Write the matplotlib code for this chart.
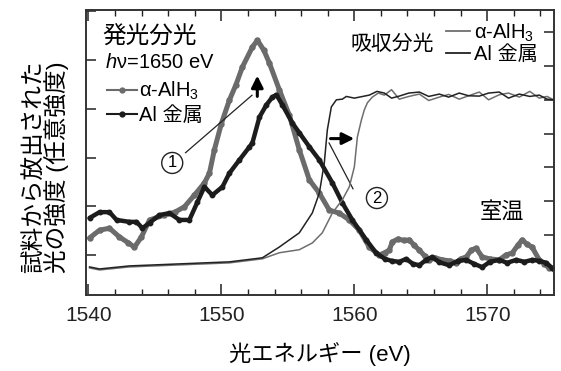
import matplotlib
matplotlib.use("Agg")
import matplotlib.pyplot as plt
from matplotlib.lines import Line2D

plt.rcParams['font.family'] = ['Liberation Sans', 'Noto Sans CJK JP', 'DejaVu Sans']
plt.rcParams['mathtext.fontset'] = 'custom'
plt.rcParams['mathtext.rm'] = 'Liberation Sans'
plt.rcParams['mathtext.it'] = 'Liberation Sans:italic'

# emission spectra (left axis, arbitrary units)
emi_alh3_x = [1540.08, 1540.83, 1541.58, 1542.33, 1543.0, 1543.46, 1543.98, 1544.59, 1545.71,
              1546.5, 1547.22, 1547.97, 1548.72, 1549.1, 1549.47, 1550.0, 1550.6, 1551.1, 1551.58,
              1552.33, 1552.71, 1553.2, 1553.61, 1554.36, 1555.11, 1555.86, 1556.62, 1557.37,
              1558.12, 1558.87, 1559.62, 1560.38, 1561.13, 1561.88, 1562.3, 1562.63, 1562.86,
              1563.3, 1563.7, 1564.14, 1564.5, 1564.89, 1565.3, 1565.64, 1566.1, 1566.62, 1567.2,
              1567.67, 1568.0, 1568.42, 1568.8, 1569.17, 1569.62, 1570.2, 1570.9, 1571.4, 1571.88,
              1572.3, 1572.63, 1573.0, 1573.38, 1573.91, 1574.3, 1574.66, 1575.0]
emi_alh3_y = [0.35, 0.51, 0.55, 0.37, 0.25, 0.16, 0.37, 0.72, 0.82,
              0.88, 0.99, 1.23, 1.48, 1.68, 2.16, 2.7, 3.18, 3.5, 3.86,
              4.27, 4.41, 4.2, 3.94, 3.39, 2.87, 2.16, 1.54, 1.27,
              0.92, 0.86, 0.72, 0.51, 0.16, 0.0, 0.05, 0.10, 0.27,
              0.33, 0.30, 0.31, 0.20, 0.10, -0.02, -0.10, -0.06, -0.10, -0.12,
              -0.16, -0.08, -0.04, 0.10, 0.14, -0.04, -0.08, -0.10, 0.00, 0.04,
              0.20, 0.31, 0.22, 0.16, -0.10, -0.18, -0.27, -0.28]

emi_al_x = [1540.08, 1540.83, 1541.58, 1542.11, 1543.08, 1543.61, 1544.06, 1544.59, 1545.34,
            1546.09, 1546.84, 1547.59, 1548.2, 1548.72, 1549.32, 1550.08, 1550.6, 1551.35,
            1552.11, 1552.33, 1552.86, 1553.38, 1553.83, 1554.14, 1554.59, 1555.34, 1555.86,
            1556.62, 1557.37, 1558.35, 1559.1, 1559.85, 1560.9, 1561.65, 1562.3, 1562.8,
            1563.38, 1563.9, 1564.4, 1564.89, 1565.4, 1565.86, 1566.4, 1567.14, 1567.8,
            1568.42, 1569.0, 1569.62, 1570.2, 1570.9, 1571.5, 1572.18, 1572.8, 1573.38,
            1573.9, 1574.44, 1574.89]
emi_al_y = [0.76, 0.88, 0.88, 0.72, 0.68, 0.68, 0.55, 0.66, 0.82,
            0.86, 0.72, 0.72, 1.09, 1.40, 1.23, 1.40, 1.68, 1.95,
            2.22, 2.30, 2.83, 3.08, 3.24, 3.29, 3.08, 2.71, 2.51,
            2.22, 1.95, 1.48, 1.07, 0.72, 0.31, 0.04, -0.08, -0.12,
            -0.14, -0.08, -0.18, -0.21, -0.10, -0.04, -0.15, -0.21, -0.12,
            -0.10, -0.18, -0.25, -0.14, -0.10, -0.16, -0.10, -0.14, -0.10,
            -0.12, -0.16, -0.27]

# absorption spectra (right axis, arbitrary units)
abs_al_x = [1540.08, 1540.83, 1543.08, 1546.84, 1550.6, 1553.08, 1554.36, 1555.86, 1556.84,
            1557.37, 1557.74, 1557.97, 1558.27, 1558.65, 1559.1, 1559.4, 1560.0, 1560.38,
            1561.13, 1561.7, 1562.26, 1562.8, 1563.38, 1564.1, 1564.89, 1565.6, 1566.39,
            1567.1, 1567.89, 1568.6, 1569.4, 1570.1, 1570.9, 1571.6, 1572.41, 1573.2,
            1573.91, 1574.5, 1575.0]
abs_al_y = [-0.95, -1.01, -0.92, -0.86, -0.80, -0.68, -0.36, 0.06, 0.65,
            1.24, 2.13, 3.11, 3.79, 4.0, 4.02, 4.10, 4.05, 4.08,
            4.14, 4.25, 4.20, 4.05, 4.11, 4.20, 4.23, 4.10, 4.17,
            4.08, 4.20, 4.12, 4.11, 4.20, 4.23, 4.05, 4.17, 4.10,
            4.14, 4.02, 4.0]
abs_alh3_x = [1540.08, 1540.83, 1543.08, 1546.84, 1550.6, 1553.08, 1554.36, 1555.86, 1556.84,
              1557.59, 1558.35, 1559.1, 1559.62, 1560.0, 1560.23, 1560.53, 1560.75, 1560.98,
              1561.35, 1561.8, 1562.26, 1562.8, 1563.38, 1564.1, 1564.89, 1565.6, 1566.39,
              1567.1, 1567.89, 1568.6, 1569.4, 1570.1, 1570.9, 1571.6, 1572.41, 1573.2,
              1573.91, 1574.5, 1575.0]
abs_alh3_y = [-0.98, -1.04, -0.95, -0.89, -0.83, -0.71, -0.53, -0.44, -0.24,
              0.06, 0.65, 1.04, 1.42, 2.01, 2.90, 3.40, 3.70, 3.91,
              4.08, 4.20, 4.14, 4.30, 4.02, 4.10, 4.17, 3.98, 4.08,
              4.16, 4.02, 4.12, 4.23, 4.00, 4.15, 4.20, 4.08, 4.25,
              4.05, 4.10, 4.0]

x_ticks = [1540, 1550, 1560, 1570]

GRAY = '#6b6b6b'
BLACK = '#1c1c1c'

fig = plt.figure(figsize=(5.61, 3.71), dpi=100)
ax = fig.add_axes([0.153, 0.205, 0.834, 0.768])
ax2 = ax.twinx()

ax.plot(emi_alh3_x, emi_alh3_y, color=GRAY, lw=3.6, marker='o', ms=3.6,
        solid_capstyle='round', zorder=3)
ax.plot(emi_al_x, emi_al_y, color=BLACK, lw=3.2, marker='o', ms=3.2,
        solid_capstyle='round', zorder=4)
ax2.plot(abs_alh3_x, abs_alh3_y, color='#6e6e6e', lw=1.1)
ax2.plot(abs_al_x, abs_al_y, color='#222222', lw=1.1)

ax.set_xlim(1539.8, 1575)
ax.set_ylim(-0.82, 5.03)
ax2.set_ylim(-1.78, 6.66)
ax.set_xticks(x_ticks)
ax.set_xticks(range(1540, 1576, 2), minor=True)
ax.set_yticks(range(0, 6))
ax2.set_yticks(range(0, 7))
ax.set_yticklabels([])
ax2.set_yticklabels([])
ax.tick_params(axis='x', which='major', direction='in', length=8, width=1.1,
               top=True, labelsize=15, pad=8, colors='#222222')
ax.tick_params(axis='x', which='minor', direction='in', length=4, width=1.0, top=True,
               colors='#222222')
ax.tick_params(axis='y', direction='in', length=7, width=1.1, colors='#222222')
ax2.tick_params(axis='y', direction='in', length=7, width=1.1, colors='#222222')
for a in (ax, ax2):
    for s in a.spines.values():
        s.set_color('#333333')
        s.set_linewidth(1.2)

ax.set_xlabel('光エネルギー (eV)', fontsize=16, labelpad=12)
ax.set_ylabel('試料から放出された\n光の強度 (任意強度)', fontsize=17, linespacing=0.9)
ax.yaxis.set_label_coords(-0.036, 0.45)

# emission block (top-left)
ax.text(0.036, 0.88, '発光分光', transform=ax.transAxes, fontsize=17)
ax.text(0.04, 0.795, '$h$ν=1650 eV', transform=ax.transAxes, fontsize=14.5)
emi_handles = [Line2D([], [], color=GRAY, lw=1.5, marker='o', ms=3.5),
               Line2D([], [], color=BLACK, lw=1.5, marker='o', ms=3.5)]
ax.legend(emi_handles, ['α-AlH$_3$', 'Al 金属'], loc='upper left', numpoints=1,
          bbox_to_anchor=(0.015, 0.805), frameon=False, fontsize=14.5,
          handlelength=1.5, handletextpad=0.1, labelspacing=0.2, borderpad=0.2)

# absorption block (top-right)
ax2.text(0.565, 0.86, '吸収分光', transform=ax2.transAxes, fontsize=15)
abs_handles = [Line2D([], [], color='#6e6e6e', lw=1.3),
               Line2D([], [], color='#222222', lw=1.3)]
ax2.legend(abs_handles, ['α-AlH$_3$', 'Al 金属'], loc='upper left',
           bbox_to_anchor=(0.74, 1.01), frameon=False, fontsize=14.5,
           handlelength=1.2, handletextpad=0.2, labelspacing=0.08, borderpad=0.2)

ax.text(0.842, 0.29, '室温', transform=ax.transAxes, fontsize=16, va='center')

# arrows and numbered markers
ax.annotate('', xy=(1552.7, 3.74), xytext=(1552.7, 3.2),
            arrowprops=dict(arrowstyle='-|>,head_width=0.35,head_length=0.7',
                            color='black', lw=2.2), zorder=6)
ax.annotate('', xy=(1560.2, 2.39), xytext=(1558.0, 2.39),
            arrowprops=dict(arrowstyle='-|>,head_width=0.35,head_length=0.7',
                            color='black', lw=2.2), zorder=6)
ax.plot([1547.3, 1552.3], [2.1, 3.28], color='#222222', lw=0.9, zorder=5)
ax.plot([1558.1, 1559.9], [2.3, 1.36], color='#222222', lw=0.9, zorder=5)
for lbl, cx, cy in [('1', 1546.3, 1.89), ('2', 1561.7, 1.17)]:
    ax.text(cx, cy, lbl, fontsize=12, ha='center', va='center', zorder=7,
            bbox=dict(boxstyle='circle,pad=0.18', fc='white', ec='#222222', lw=1.0))

fig.savefig('out.png', dpi=100)
